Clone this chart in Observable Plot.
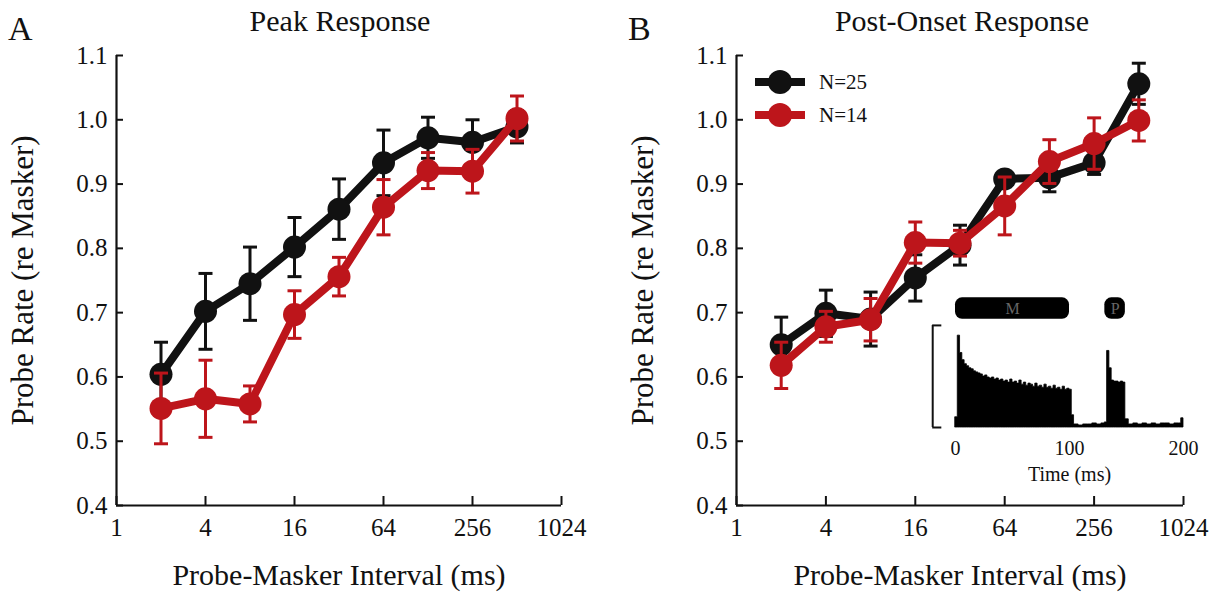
<!DOCTYPE html>
<html><head><meta charset="utf-8">
<script src="https://cdn.jsdelivr.net/npm/d3@7"></script>
<script src="https://cdn.jsdelivr.net/npm/@observablehq/plot@0.6"></script>
<style>
body{margin:0;background:#fff;}
#root{position:relative;width:1211px;height:594px;overflow:hidden;font-family:"Liberation Serif",serif;color:#111;}
.abs{position:absolute;line-height:1;white-space:nowrap;}
.title{font-size:30px;transform:translateX(-50%);}
.letter{font-size:34px;}
svg.plotabs{position:absolute;}
</style></head><body><div id="root"></div>
<script>
// ---- data ----
const intervals = [2, 4, 8, 16, 32, 64, 128, 256, 512];
const xTicks = [1, 4, 16, 64, 256, 1024];
const yTicks = [0.4, 0.5, 0.6, 0.7, 0.8, 0.9, 1.0, 1.1];
const seriesNames = ["N=25", "N=14"];

const peakN25    = [0.604, 0.702, 0.745, 0.802, 0.861, 0.933, 0.972, 0.965, 0.989];
const peakN25Err = [0.050, 0.059, 0.057, 0.046, 0.047, 0.051, 0.032, 0.035, 0.025];
const peakN14    = [0.551, 0.566, 0.558, 0.697, 0.756, 0.864, 0.921, 0.920, 1.002];
const peakN14Err = [0.055, 0.060, 0.028, 0.037, 0.030, 0.043, 0.028, 0.034, 0.035];

const postN25    = [0.650, 0.699, 0.690, 0.754, 0.805, 0.908, 0.910, 0.933, 1.056];
const postN25Err = [0.043, 0.036, 0.042, 0.036, 0.031, 0.012, 0.022, 0.018, 0.032];
const postN14    = [0.618, 0.678, 0.689, 0.809, 0.808, 0.866, 0.935, 0.963, 0.999];
const postN14Err = [0.036, 0.024, 0.033, 0.032, 0.020, 0.045, 0.034, 0.040, 0.032];

// inset PSTH (time in ms, height relative to scale bar)
const psthT = [0,2,4,6,8,10,12,14,16,18,20,22,24,26,28,30,32,34,36,38,40,42,44,46,48,50,52,54,56,58,60,62,64,66,68,70,72,74,76,78,80,82,84,86,88,90,92,94,96,98,100,102,
  104,108,112,116,120,124,128,
  131,133,135,137,139,141,143,145,147,149,
  152,156,160,164,168,172,176,180,184,188,192,196,
  198,200];
const psthH = [0.10,0.90,0.73,0.66,0.62,0.60,0.58,0.57,0.55,0.54,0.53,0.52,0.50,0.51,0.49,0.48,0.49,0.47,0.48,0.46,0.47,0.45,0.46,0.44,0.47,0.44,0.45,0.43,0.46,0.42,0.44,0.41,0.43,0.42,0.40,0.43,0.40,0.41,0.39,0.42,0.39,0.40,0.38,0.41,0.38,0.39,0.37,0.40,0.37,0.38,0.37,0.12,
  0.03,0.02,0.03,0.03,0.04,0.03,0.04,
  0.05,0.75,0.58,0.46,0.45,0.45,0.44,0.45,0.44,0.08,
  0.03,0.04,0.03,0.04,0.03,0.04,0.03,0.04,0.04,0.03,0.04,0.04,
  0.09,0.09];
const stimLabels = ["M", "P"];
const stimStart = [0, 131];
const stimEnd = [100, 149];
const insetTicks = [0, 100, 200];

const BLACK = "#111111", RED = "#bd151b";
const root = document.getElementById("root");

function addText(txt, cls, left, top) {
  const d = document.createElement("div");
  d.className = "abs " + cls;
  d.textContent = txt;
  d.style.left = left + "px";
  d.style.top = top + "px";
  root.appendChild(d);
}

const capSymbol = {draw(ctx) { ctx.moveTo(-7, 0); ctx.lineTo(7, 0); }};

function seriesMarks(vals, errs, color) {
  const data = intervals.map((x, i) => ({x, y: vals[i], lo: vals[i] - errs[i], hi: vals[i] + errs[i]}));
  return [
    Plot.ruleX(data, {x: "x", y1: "lo", y2: "hi", stroke: color, strokeWidth: 3}),
    Plot.dot(data, {x: "x", y: "lo", symbol: capSymbol, stroke: color, strokeWidth: 3, r: 7}),
    Plot.dot(data, {x: "x", y: "hi", symbol: capSymbol, stroke: color, strokeWidth: 3, r: 7}),
    Plot.line(data, {x: "x", y: "y", stroke: color, strokeWidth: 8}),
    Plot.dot(data, {x: "x", y: "y", fill: color, r: 11.5})
  ];
}

function panel(left, width, marginLeft, marginRight, a, ae, b, be) {
  const svg = Plot.plot({
    width, height: 594, marginLeft, marginRight, marginTop: 55, marginBottom: 89,
    x: {type: "log", base: 2, domain: [1, 1024]},
    y: {domain: [0.4, 1.1]},
    style: {fontFamily: "'Liberation Serif', serif", fontSize: "25px", color: "#111", background: "transparent", overflow: "visible"},
    marks: [
      Plot.ruleX([1], {stroke: "#111", strokeWidth: 2.2}),
      Plot.ruleY([0.4], {stroke: "#111", strokeWidth: 2.2}),
      Plot.axisX({ticks: xTicks, tickSize: -9, tickPadding: 22, tickFormat: d => String(d), label: null, strokeWidth: 2, fontSize: 25}),
      Plot.axisY({ticks: yTicks, tickSize: -7, tickPadding: 16, tickFormat: d => d.toFixed(1), label: null, strokeWidth: 2, fontSize: 25}),
      Plot.text(["Probe-Masker Interval (ms)"], {frameAnchor: "bottom", dy: 79, lineAnchor: "bottom", fontSize: 30, fill: "#111"}),
      Plot.text(["Probe Rate (re Masker)"], {frameAnchor: "left", dx: -93, rotate: -90, textAnchor: "middle", lineAnchor: "middle", fontSize: 31, fill: "#111"}),
      ...seriesMarks(a, ae, BLACK),
      ...seriesMarks(b, be, RED)
    ]
  });
  svg.classList.add("plotabs");
  svg.style.left = left + "px";
  svg.style.top = "0px";
  root.appendChild(svg);
}

panel(0, 605, 116, 44, peakN25, peakN25Err, peakN14, peakN14Err);
panel(605, 606, 131, 28, postN25, postN25Err, postN14, postN14Err);

// inset
const psth = psthT.map((t, i) => ({t, h: psthH[i]}));
const stim = stimLabels.map((label, i) => ({label, start: stimStart[i], end: stimEnd[i]}));
const inset = Plot.plot({
  width: 300, height: 215, marginLeft: 55, marginRight: 17, marginTop: 0, marginBottom: 68,
  x: {domain: [0, 200]},
  y: {domain: [0, 1.44], axis: null},
  style: {fontFamily: "'Liberation Serif', serif", fontSize: "20px", color: "#111", background: "transparent", overflow: "visible"},
  marks: [
    Plot.areaY(psth, {x: "t", y: "h", curve: "step-after", fill: "#000", stroke: "#000", strokeWidth: 0.8}),
    Plot.ruleX([-20], {y1: 0, y2: 1, stroke: "#111", strokeWidth: 2}),
    Plot.ruleY([0, 1], {x1: -20, x2: -12, stroke: "#111", strokeWidth: 2}),
    Plot.rect(stim, {x1: "start", x2: "end", y1: 1.06, y2: 1.27, rx: 7, fill: "#000"}),
    Plot.text(stim, {x: d => (d.start + d.end) / 2, y: 1.165, text: "label", fill: "#666", fontSize: 16}),
    Plot.axisX({ticks: insetTicks, tickSize: 0, tickPadding: 13, label: null, fontSize: 20}),
    Plot.text(["Time (ms)"], {frameAnchor: "bottom", dy: 53, lineAnchor: "bottom", fontSize: 20, fill: "#111"})
  ]
});
inset.classList.add("plotabs");
inset.style.left = "900px";
inset.style.top = "280px";
root.appendChild(inset);

// titles & letters
addText("A", "letter", 8, 12);
addText("B", "letter", 628, 12);
addText("Peak Response", "title", 340, 6);
addText("Post-Onset Response", "title", 962, 6);

// legend
const ns = "http://www.w3.org/2000/svg";
const leg = document.createElementNS(ns, "svg");
leg.setAttribute("width", 140); leg.setAttribute("height", 70);
leg.style.position = "absolute"; leg.style.left = "750px"; leg.style.top = "64px";
[BLACK, RED].forEach((c, i) => {
  const cy = 18 + i * 33;
  const l = document.createElementNS(ns, "line");
  l.setAttribute("x1", 5); l.setAttribute("x2", 55); l.setAttribute("y1", cy); l.setAttribute("y2", cy);
  l.setAttribute("stroke", c); l.setAttribute("stroke-width", 8);
  leg.appendChild(l);
  const ci = document.createElementNS(ns, "circle");
  ci.setAttribute("cx", 30); ci.setAttribute("cy", cy); ci.setAttribute("r", 12); ci.setAttribute("fill", c);
  leg.appendChild(ci);
  const t = document.createElementNS(ns, "text");
  t.setAttribute("x", 69); t.setAttribute("y", cy + 7);
  t.setAttribute("font-family", "'Liberation Serif', serif"); t.setAttribute("font-size", 21); t.setAttribute("fill", "#111");
  t.textContent = seriesNames[i];
  leg.appendChild(t);
});
root.appendChild(leg);
</script>
</body></html>
